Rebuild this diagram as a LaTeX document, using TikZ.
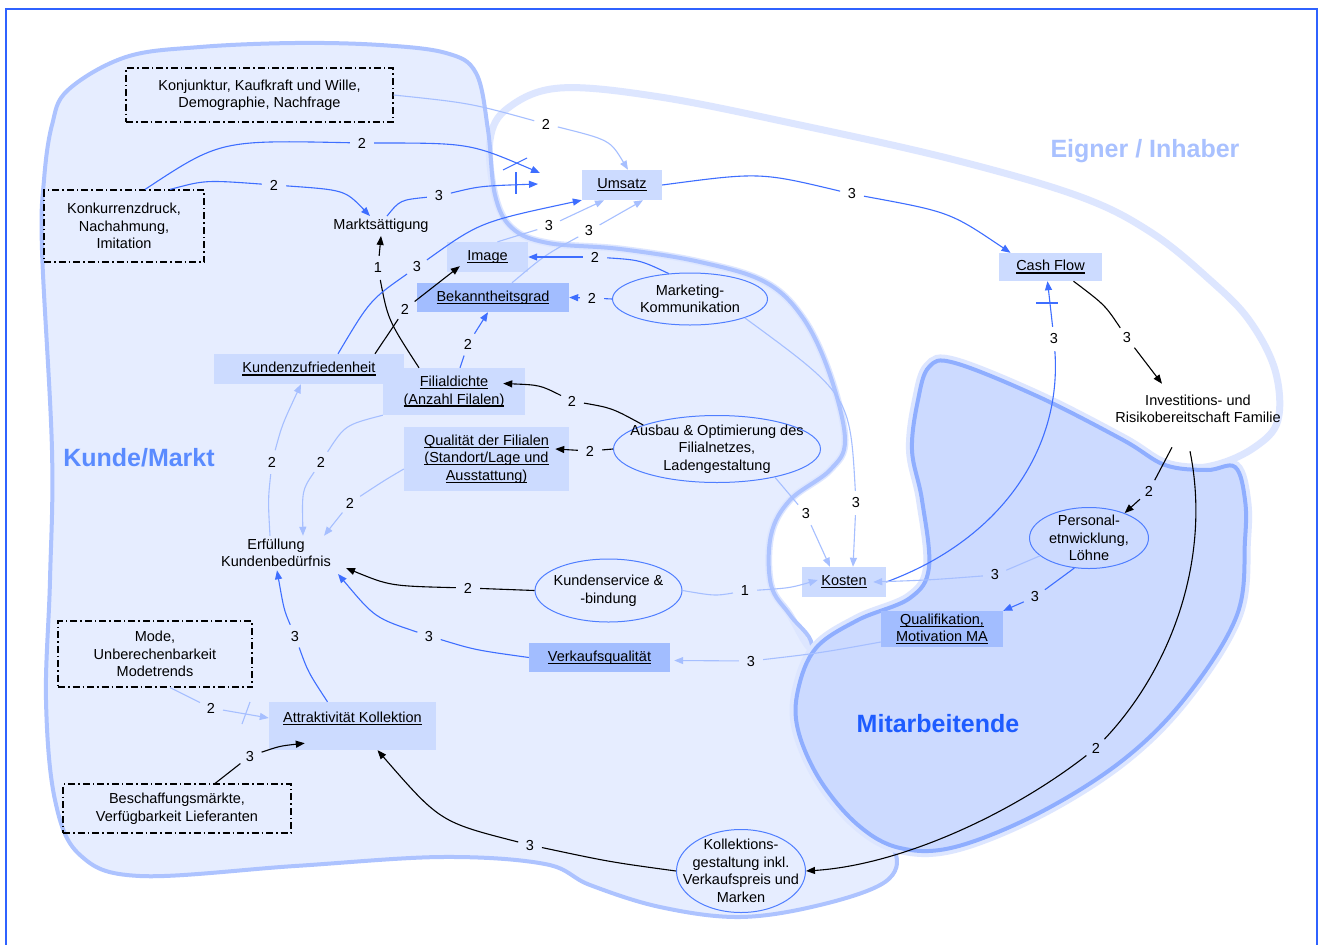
\documentclass[tikz,border=0pt]{standalone}
\usepackage{fontspec}
\setmainfont{Liberation Sans}
\usetikzlibrary{arrows.meta,shapes.geometric}
\definecolor{kfill}{HTML}{E6EDFF}
\definecolor{kline}{HTML}{ADC3FF}
\definecolor{eline}{HTML}{DDE6FF}
\definecolor{mfill}{HTML}{CCDAFF}
\definecolor{mline}{HTML}{8FAEFF}
\definecolor{boxl}{HTML}{CCDBFF}
\definecolor{boxd}{HTML}{A2BDFF}
\definecolor{eblue}{HTML}{3E6EFF}
\definecolor{elight}{HTML}{A6BFFF}
\definecolor{ellc}{HTML}{4F7EFF}
\definecolor{framec}{HTML}{2F62FF}
\definecolor{tkunde}{HTML}{5A8BFF}
\definecolor{teigner}{HTML}{A9C1FF}
\definecolor{tmit}{HTML}{1E5CFF}
\newcommand{\myul}[1]{\leavevmode\setbox0\hbox{#1}\rlap{\rule[-2.6pt]{\wd0}{1.2pt}}\box0}
\tikzset{
  every node/.style={font=\fontsize{14.5}{17.5}\selectfont, inner sep=3pt},
  rbox/.style={rectangle, fill=boxl, align=center, inner sep=0pt},
  rboxd/.style={rbox, fill=boxd},
  dbox/.style={rectangle, draw=black, line width=1.1pt, dash pattern=on 7pt off 3pt on 1.5pt off 3pt, align=center, inner sep=0pt},
  ell/.style={ellipse, draw=ellc, line width=1pt, align=center, inner xsep=-15pt, inner ysep=-8pt},
  txt/.style={align=center},
  lbl/.style={circle, inner sep=0pt, minimum size=24pt},
  region/.style={font=\fontsize{25}{30}\selectfont\bfseries},
  arr/.style={-{Triangle[length=9pt,width=7pt]}},
  eS/.style={draw=eblue, line width=1.1pt},
  eL/.style={draw=elight, line width=1.1pt},
  eK/.style={draw=black, line width=1.1pt}
}
\begin{document}
\begin{tikzpicture}[x=1pt,y=-1pt]
\useasboundingbox (0,0) rectangle (1320,945);
\fill[white] (0,0) rectangle (1320,945);
% regions
\fill[kfill] plot[smooth cycle, tension=0.6] coordinates {(42,250) (44,180) (52,125) (68,90) (126,57) (200,47) (295,43) (380,45) (446,53) (476,73) (488,130) (495,195) (512,228) (548,243) (620,249) (700,262) (765,282) (803,318) (830,375) (845,440) (830,470) (790,500) (771,535) (771,585) (790,615) (812,645) (800,685) (797,730) (815,775) (860,820) (895,852) (885,882) (820,905) (740,917) (660,907) (590,885) (545,864) (442,857) (295,866) (140,876) (80,855) (55,800) (46,700) (50,580) (52,450)};
\filldraw[fill=white, draw=eline, line width=7pt] plot[smooth cycle, tension=0.6] coordinates {(490,140) (508,108) (560,88) (660,97) (800,125) (955,160) (1081,197) (1152,233) (1210,280) (1249,320) (1275,370) (1278,420) (1255,447) (1215,465) (1170,468) (1123,447) (1039,405) (955,370) (932,372) (918,420) (925,500) (932,570) (905,605) (858,625) (825,645) (810,648) (790,615) (771,585) (771,535) (790,500) (830,470) (845,440) (830,375) (803,318) (765,282) (700,262) (620,249) (548,243) (512,228) (495,195)};
\draw[kline, line width=4pt] plot[smooth cycle, tension=0.6] coordinates {(42,250) (44,180) (52,125) (68,90) (126,57) (200,47) (295,43) (380,45) (446,53) (476,73) (488,130) (495,195) (512,228) (548,243) (620,249) (700,262) (765,282) (803,318) (830,375) (845,440) (830,470) (790,500) (771,535) (771,585) (790,615) (812,645) (800,685) (797,730) (815,775) (860,820) (895,852) (885,882) (820,905) (740,917) (660,907) (590,885) (545,864) (442,857) (295,866) (140,876) (80,855) (55,800) (46,700) (50,580) (52,450)};
\draw[eline, line width=12pt] plot[smooth cycle, tension=0.6] coordinates {(929,367) (955,363) (1039,397) (1123,440) (1165,465) (1207,470) (1235,467) (1245,500) (1245,540) (1237,615) (1186,697) (1123,760) (1039,813) (955,847) (900,848) (858,825) (820,780) (798,730) (798,690) (816,648) (858,620) (910,598) (929,567) (922,500) (912,450) (918,400)};
\filldraw[fill=mfill, draw=mline, line width=4pt] plot[smooth cycle, tension=0.6] coordinates {(929,367) (955,363) (1039,397) (1123,440) (1165,465) (1207,470) (1235,467) (1245,500) (1245,540) (1237,615) (1186,697) (1123,760) (1039,813) (955,847) (900,848) (858,825) (820,780) (798,730) (798,690) (816,648) (858,620) (910,598) (929,567) (922,500) (912,450) (918,400)};
\draw[framec, line width=1.4pt] (6,9) rectangle (1317,960);
% region titles
\node[region, text=tkunde] (tk) at (139,458) {Kunde/Markt};
\node[region, text=teigner] (te) at (1145,151) {Eigner / Inhaber};
\node[region, text=tmit] (tm) at (938,724) {Mitarbeitende};
% dash-dot boxes
\node[dbox, minimum width=267pt, minimum height=54pt] (konj) at (259.5,95) {Konjunktur, Kaufkraft und Wille,\\Demographie, Nachfrage};
\node[dbox, minimum width=160pt, minimum height=72pt] (konk) at (124,226) {Konkurrenzdruck,\\Nachahmung,\\Imitation};
\node[dbox, minimum width=194pt, minimum height=66pt] (mode) at (155,654) {Mode,\\Unberechenbarkeit\\Modetrends};
\node[dbox, minimum width=228pt, minimum height=49pt] (besch) at (177,808.5) {Beschaffungsmärkte,\\Verfügbarkeit Lieferanten};
% filled boxes
\node[rbox, minimum width=80pt, minimum height=30pt] (umsatz) at (622,185) {\myul{Umsatz}};
\node[rbox, minimum width=103pt, minimum height=28pt] (cf) at (1050.5,267) {\myul{Cash Flow}};
\node[rbox, minimum width=81pt, minimum height=30pt] (image) at (487.5,257) {\myul{Image}};
\node[rboxd, minimum width=152pt, minimum height=29pt] (bek) at (493,297.5) {\myul{Bekanntheitsgrad}};
\node[rbox, minimum width=190pt, minimum height=30pt] (kz) at (309,369) {\myul{Kundenzufriedenheit}};
\node[rbox, minimum width=142pt, minimum height=47pt] (filial) at (454,391.5) {\myul{Filialdichte}\\\myul{(Anzahl Filalen)}};
\node[rbox, minimum width=165pt, minimum height=64pt] (qual) at (486.5,459) {\myul{Qualität der Filialen}\\\myul{(Standort/Lage und}\\\myul{Ausstattung)}};
\node[rbox, minimum width=84pt, minimum height=30pt] (kosten) at (844,582) {\myul{Kosten}};
\node[rboxd, minimum width=122pt, minimum height=36pt] (qm) at (942,629) {\myul{Qualifikation,}\\\myul{Motivation MA}};
\node[rboxd, minimum width=141pt, minimum height=29pt] (vq) at (599.5,657.5) {\myul{Verkaufsqualität}};
\node[rbox, minimum width=167pt, minimum height=48pt] (ak) at (352.5,726) {\myul{Attraktivität Kollektion}\\\mbox{}};
% ellipses
\node[ell, minimum width=155pt, minimum height=52pt] (mk) at (690,299) {Marketing-\\Kommunikation};
\node[ell, minimum width=207pt, minimum height=67pt] (au) at (717,449) {Ausbau \& Optimierung des\\Filialnetzes,\\Ladengestaltung};
\node[ell, minimum width=147pt, minimum height=63pt] (ks) at (608.5,590.5) {Kundenservice \&\\-bindung};
\node[ell, minimum width=119pt, minimum height=61pt] (ps) at (1089,538) {Personal-\\etnwicklung,\\Löhne};
\node[ell, minimum width=129pt, minimum height=83pt] (kg) at (741,871) {Kollektions-\\gestaltung inkl.\\Verkaufspreis und\\Marken};
% plain text nodes
\node[txt] (markt) at (381,226) {Marktsättigung};
\node[txt] (erf) at (276,553) {Erfüllung\\Kundenbedürfnis};
\node[txt] (inv) at (1198,409) {Investitions- und\\Risikobereitschaft Familie};
% labels
\node[lbl] (l1) at (546,124) {2};
\node[lbl] (l2) at (362,143) {2};
\node[lbl] (l3) at (274,185) {2};
\node[lbl] (l4) at (439,196) {3};
\node[lbl] (l5) at (378,268) {1};
\node[lbl] (l6) at (405,309) {2};
\node[lbl] (l7) at (417,267) {3};
\node[lbl] (l8) at (549,226) {3};
\node[lbl] (l9) at (589,231) {3};
\node[lbl] (l10) at (595,257) {2};
\node[lbl] (l11) at (592,298) {2};
\node[lbl] (l12) at (468,344) {2};
\node[lbl] (l13) at (572,401) {2};
\node[lbl] (l14) at (590,451) {2};
\node[lbl] (l15) at (468,588) {2};
\node[lbl] (l16) at (429,636) {3};
\node[lbl] (l17) at (295,636) {3};
\node[lbl] (l18) at (272,462) {2};
\node[lbl] (l19) at (321,462) {2};
\node[lbl] (l20) at (350,503) {2};
\node[lbl] (l21) at (211,708) {2};
\node[lbl] (l22) at (250,756) {3};
\node[lbl] (l23) at (530,845) {3};
\node[lbl] (l24) at (1096,748) {2};
\node[lbl] (l25) at (1149,491) {2};
\node[lbl] (l26) at (1127,338) {3};
\node[lbl] (l27) at (852,194) {3};
\node[lbl] (l28) at (1054,339) {3};
\node[lbl] (l29) at (856,503) {3};
\node[lbl] (l30) at (806,514) {3};
\node[lbl] (l31) at (745,591) {1};
\node[lbl] (l32) at (995,575) {3};
\node[lbl] (l33) at (1035,597) {3};
\node[lbl] (l34) at (751,661) {3};
\coordinate (t2) at (540,173);
\coordinate (t4) at (538,184);
% edges
\draw[eL] (konj.east) .. controls (470,103) .. (l1);
\draw[eL,arr] (l1) .. controls (610,140) .. ([xshift=6pt]umsatz.north);
\draw[eS] ([xshift=21pt]konk.north) .. controls (220,140) .. (l2);
\draw[eS,arr] (l2) .. controls (470,143) .. (t2);
\draw[eS] (503,170) -- (527,158);
\draw[eS] ([xshift=46pt]konk.north) .. controls (205,180) .. (l3);
\draw[eS,arr] (l3) .. controls (345,190) .. ([xshift=-11pt]markt.north);
\draw[eS] ([xshift=6pt]markt.north) .. controls (400,200) .. (l4);
\draw[eS,arr] (l4) .. controls (480,186) .. (t4);
\draw[eS] (516,172) -- (516,194);
\draw[eK] ([xshift=-35pt]filial.north) .. controls (388,320) .. (l5);
\draw[eK,arr] (l5) -- (markt.south);
\draw[eK] ([xshift=66pt]kz.north) -- (l6);
\draw[eK,arr] (l6) -- ([xshift=13pt,yshift=6pt]image.south west);
\draw[eS] ([xshift=29pt]kz.north) .. controls (370,300) .. (l7);
\draw[eS,arr] (l7) .. controls (480,222) .. (umsatz.south west);
\draw[eL] ([xshift=10pt]image.north) -- (l8);
\draw[eL,arr] (l8) -- ([xshift=-18pt]umsatz.south);
\draw[eL] ([xshift=19pt]bek.north) .. controls (545,255) .. (l9);
\draw[eL,arr] (l9) -- ([xshift=21pt]umsatz.south);
\draw[eS] (mk.130) .. controls (640,260) .. (l10);
\draw[eS,arr] (l10) -- (image.east);
\draw[eS] (mk.west) -- (l11);
\draw[eS,arr] (l11) -- (bek.east);
\draw[eS] ([xshift=6pt]filial.north) -- (l12);
\draw[eS,arr] (l12) -- ([xshift=-5pt]bek.south);
\draw[eK] (au.162) .. controls (612,408) .. (l13);
\draw[eK,arr] (l13) .. controls (540,385) .. ([xshift=-22pt,yshift=8pt]filial.east);
\draw[eK] (au.west) -- (l14);
\draw[eK,arr] (l14) -- ([xshift=-14pt,yshift=10pt]qual.east);
\draw[eK] (ks.west) -- (l15);
\draw[eK,arr] (l15) .. controls (390,586) .. ([xshift=12pt,yshift=-15pt]erf.east);
\draw[eS] (vq.west) .. controls (475,650) .. (l16);
\draw[eS,arr] (l16) .. controls (375,618) .. ([xshift=4pt,yshift=-21pt]erf.east);
\draw[eS] ([xshift=-25pt]ak.north) .. controls (308,672) .. (l17);
\draw[eS,arr] (l17) .. controls (284,610) .. ([xshift=1pt]erf.south);
\draw[eL] ([xshift=-6pt]erf.north) .. controls (268,500) .. (l18);
\draw[eL,arr] (l18) .. controls (282,425) .. ([xshift=-8pt]kz.south);
\draw[eL] (filial.south west) .. controls (345,425) .. (l19);
\draw[eL,arr] (l19) .. controls (302,490) .. ([xshift=27pt]erf.north);
\draw[eL] ([yshift=-10pt]qual.west) .. controls (385,480) .. (l20);
\draw[eL,arr] (l20) -- ([xshift=-10pt]erf.north east);
\draw[eL] ([xshift=15pt]mode.south) -- (l21);
\draw[eL,arr] (l21) -- ([yshift=8pt]ak.west);
\draw[eL] (250,702) -- (242,724);
\draw[eK] ([xshift=38pt]besch.north) -- (l22);
\draw[eK,arr] (l22) .. controls (280,746) .. ([xshift=36pt,yshift=7pt]ak.south west);
\draw[eK] (kg.west) .. controls (610,862) .. (l23);
\draw[eK,arr] (l23) .. controls (440,822) .. ([xshift=25pt]ak.south);
\draw[eK] ([xshift=-8pt,yshift=-25pt]inv.south) .. controls (1212,560) and (1170,670) .. (l24);
\draw[eK,arr] (l24) .. controls (1010,815) and (900,865) .. (kg.east);
\draw[eK] ([xshift=-26pt,yshift=-21pt]inv.south) -- (l25);
\draw[eK,arr] (l25) -- (ps.35);
\draw[eK] ([xshift=23pt]cf.south) .. controls (1105,305) .. (l26);
\draw[eK,arr] (l26) -- ([xshift=-36pt,yshift=8pt]inv.north);
\draw[eS] (umsatz.east) .. controls (760,172) .. (l27);
\draw[eS,arr] (l27) .. controls (950,212) .. ([xshift=-40pt]cf.north);
\draw[eS] (kosten.east) .. controls (1000,540) and (1062,450) .. (l28);
\draw[eS,arr] (l28) -- ([xshift=-3pt]cf.south);
\draw[eS] (1036,303) -- (1058,303);
\draw[eL] (mk.-19) .. controls (850,395) .. (l29);
\draw[eL,arr] (l29) -- ([xshift=9pt]kosten.north);
\draw[eL] (au.-26) -- (l30);
\draw[eL,arr] (l30) -- ([xshift=-14pt]kosten.north);
\draw[eL] (ks.east) .. controls (715,596) .. (l31);
\draw[eL,arr] (l31) .. controls (790,588) .. ([xshift=16pt,yshift=2pt]kosten.west);
\draw[eL] (ps.200) -- (l32);
\draw[eL,arr] (l32) .. controls (930,580) .. ([xshift=-13pt]kosten.east);
\draw[eS] (ps.244) -- (l33);
\draw[eS,arr] (l33) -- (qm.north east);
\draw[eL] ([yshift=-13pt]qm.west) .. controls (820,653) .. (l34);
\draw[eL,arr] (l34) -- ([xshift=4pt,yshift=-3pt]vq.east);
\end{tikzpicture}
\end{document}
